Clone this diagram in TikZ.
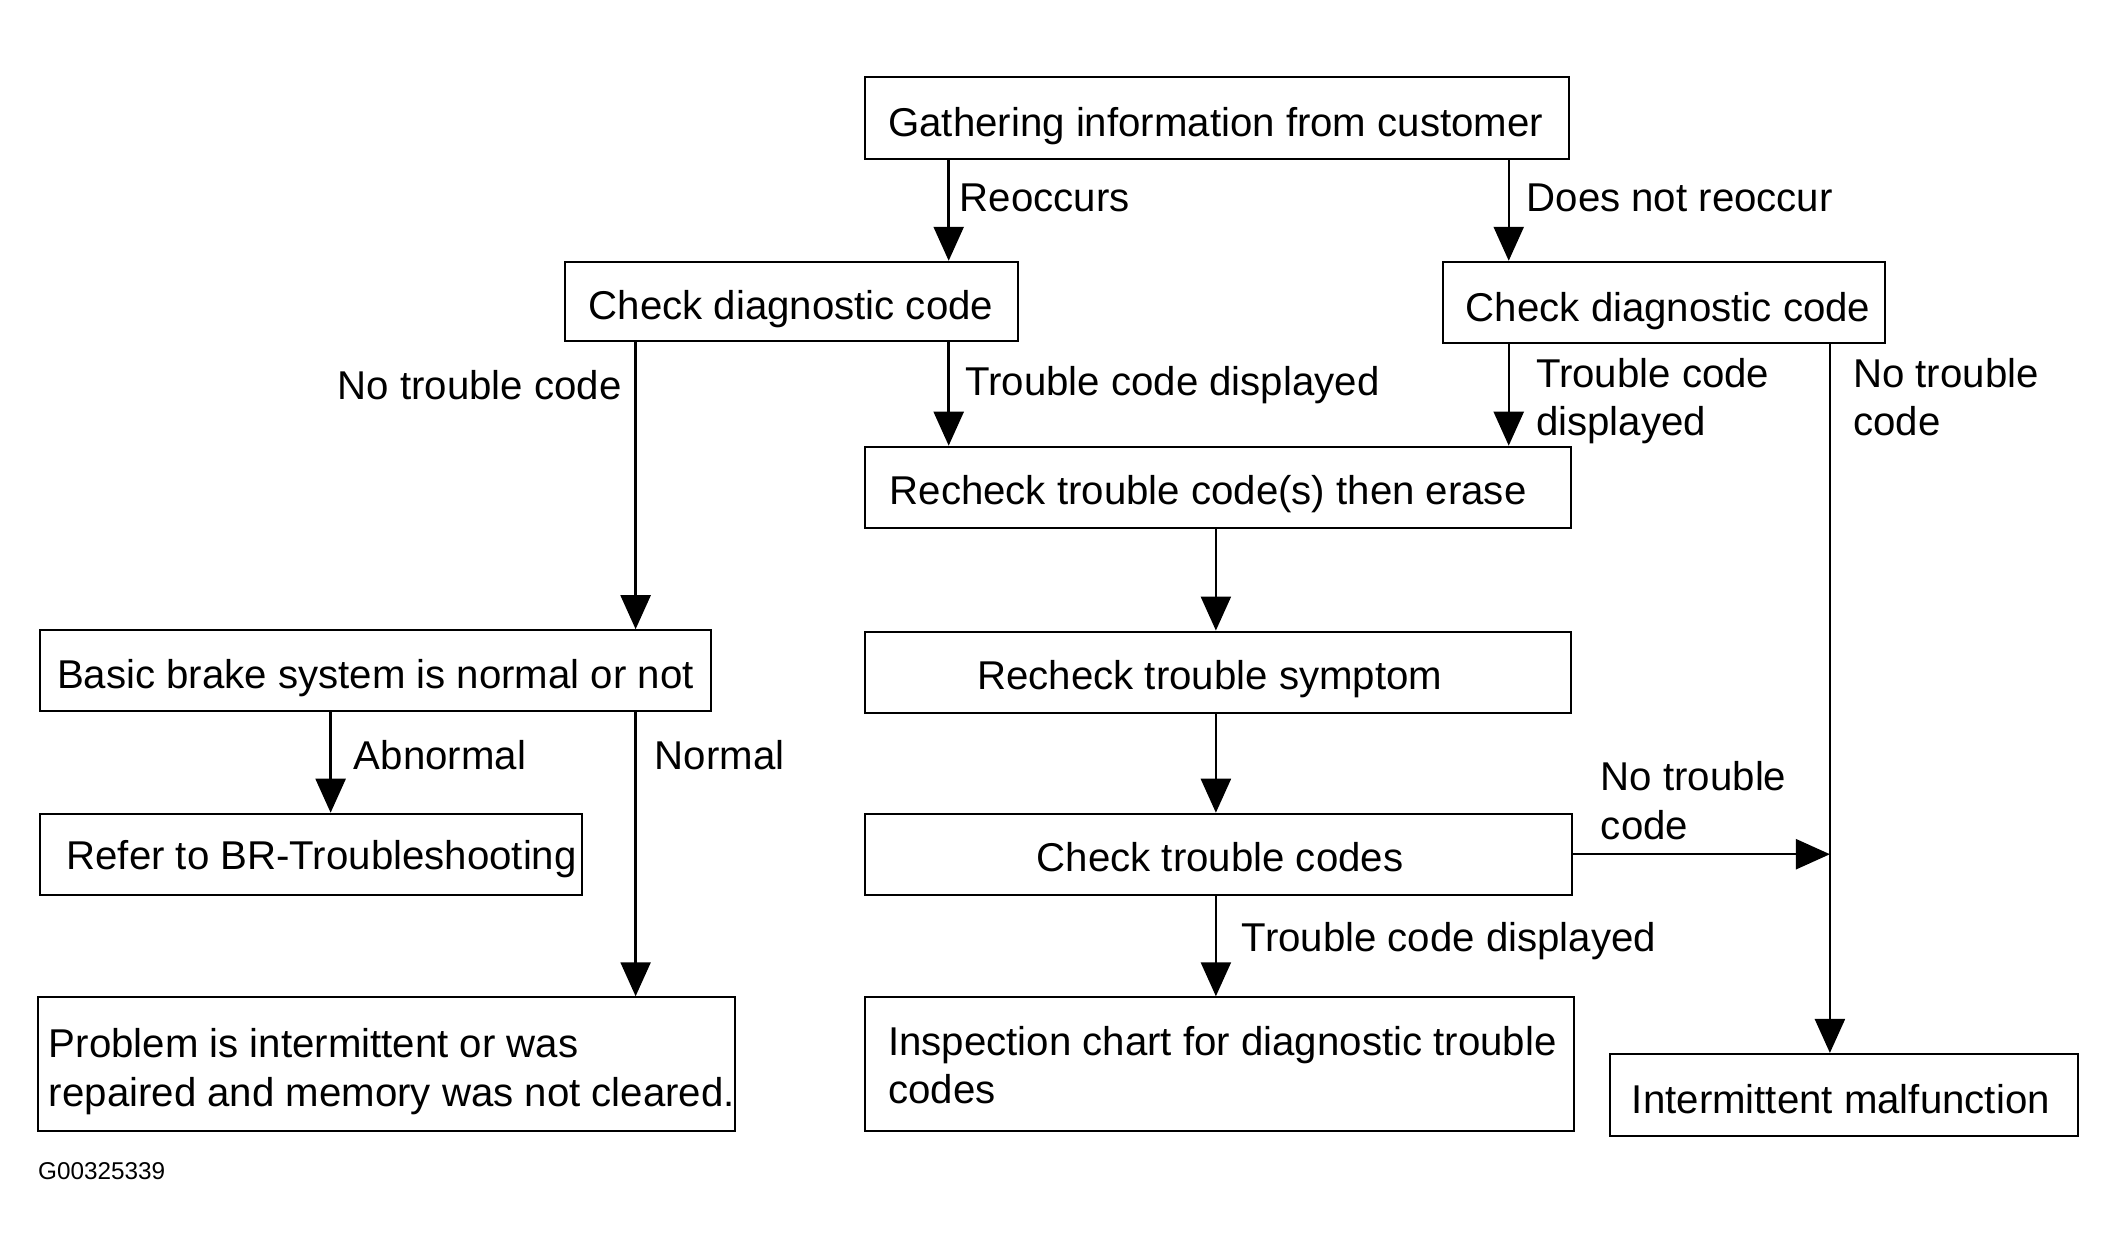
\documentclass[tikz,border=0pt]{standalone}
\usepackage{fontspec}
\setmainfont{Liberation Sans}
\usetikzlibrary{arrows.meta,fit}
\begin{document}
\begin{tikzpicture}[x=0.67474pt,y=-0.67474pt,
  box/.style={draw,line width=1pt,inner sep=0pt},
  txt/.style={inner sep=0pt,anchor=base west,align=left,font=\fontsize{20.1}{24.3}\selectfont},
  arr/.style={line width=1.2pt,-{Triangle[length=17pt,width=15pt]}}]
\useasboundingbox (0,0) rectangle (1568,929);
% boxes
\node[box,fit={(641,57)(1163,118)}] (gather) {};
\node[box,fit={(419,194)(754,253)}] (chkL) {};
\node[box,fit={(1069,194)(1397,254)}] (chkR) {};
\node[box,fit={(641,331)(1164,391)}] (erase) {};
\node[box,fit={(30,467)(527,527)}] (basic) {};
\node[box,fit={(641,468)(1164,528)}] (sympt) {};
\node[box,fit={(30,603)(431,663)}] (refer) {};
\node[box,fit={(641,603)(1165,663)}] (codes) {};
\node[box,fit={(28,739)(545,838)}] (probl) {};
\node[box,fit={(641,739)(1166,838)}] (insp) {};
\node[box,fit={(1193,781)(1540,842)}] (intm) {};
% box texts (base anchor = baseline of last line)
\node[txt] (gatherT) at (658,101) {Gathering information from customer};
\node[txt] (chkLT) at (436,237) {Check diagnostic code};
\node[txt] (chkRT) at (1086,238) {Check diagnostic code};
\node[txt] (eraseT) at (659,374) {Recheck trouble code(s) then erase};
\node[txt] (basicT) at (42,510) {Basic brake system is normal or not};
\node[txt] (symptT) at (724,511) {Recheck trouble symptom};
\node[txt] (referT) at (49,644) {Refer to BR-Troubleshooting};
\node[txt] (codesT) at (768,646) {Check trouble codes};
\node[txt] (problT) at (36,820) {Problem is intermittent or was\\repaired and memory was not cleared.};
\node[txt] (inspT) at (658,818) {Inspection chart for diagnostic trouble\\codes};
\node[txt] (intmT) at (1209,825) {Intermittent malfunction};
% connector x positions
\coordinate (xa) at (703,0);
\coordinate (xb) at (1118,0);
\coordinate (xc) at (471,0);
\coordinate (xd) at (901,0);
\coordinate (xe) at (1356,0);
\coordinate (xf) at (245,0);
% connectors
\draw[arr] (gather.south -| xa) -- (chkL.north -| xa);
\draw[arr] (gather.south -| xb) -- (chkR.north -| xb);
\draw[arr] (chkL.south -| xc) -- (basic.north -| xc);
\draw[arr] (chkL.south -| xa) -- (erase.north -| xa);
\draw[arr] (chkR.south -| xb) -- (erase.north -| xb);
\draw[arr] (chkR.south -| xe) -- (intm.north -| xe);
\draw[arr] (erase.south -| xd) -- (sympt.north -| xd);
\draw[arr] (sympt.south -| xd) -- (codes.north -| xd);
\coordinate (jn) at (codes.east -| xe);
\draw[arr] (codes.east) -- (jn);
\draw[arr] (codes.south -| xd) -- (insp.north -| xd);
\draw[arr] (basic.south -| xf) -- (refer.north -| xf);
\draw[arr] (basic.south -| xc) -- (probl.north -| xc);
% connector labels
\node[txt] (l1) at (711,157) {Reoccurs};
\node[txt] (l2) at (1131,157) {Does not reoccur};
\node[txt] (l3) at (250,296) {No trouble code};
\node[txt] (l4) at (715,293) {Trouble code displayed};
\node[txt] (l5) at (1138,323) {Trouble code\\displayed};
\node[txt] (l6) at (1373,323) {No trouble\\code};
\node[txt] (l7) at (262,570) {Abnormal};
\node[txt] (l8) at (485,570) {Normal};
\node[txt] (l9) at (1186,622) {No trouble\\code};
\node[txt] (l10) at (920,705) {Trouble code displayed};
\node[inner sep=0pt,anchor=base west,font=\fontsize{12.15}{14}\selectfont] (gid) at (28,874) {G00325339};
\end{tikzpicture}
\end{document}
